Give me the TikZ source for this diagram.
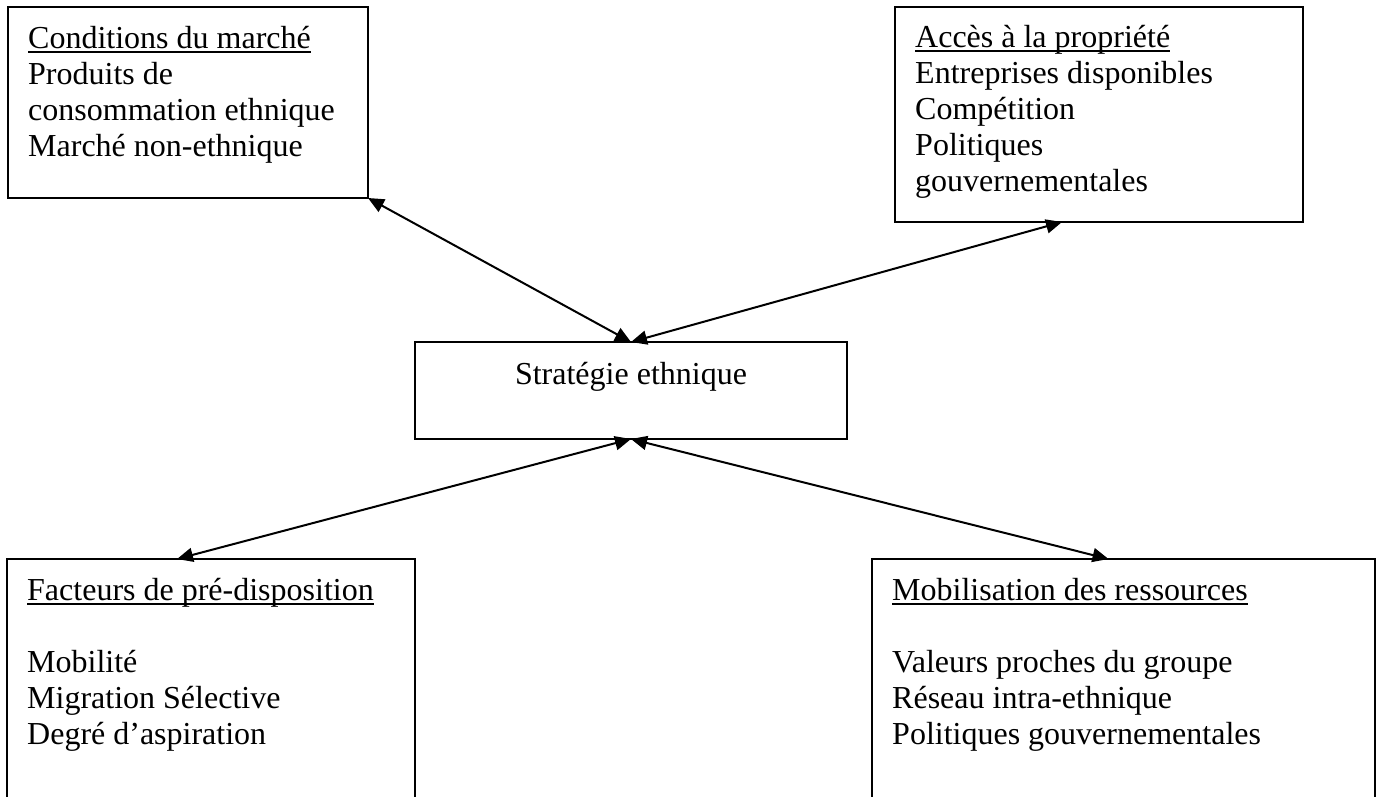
\documentclass[tikz,border=0pt]{standalone}
\usepackage{fontspec}
\setmainfont{Liberation Serif}
\usetikzlibrary{arrows.meta}

\newcommand{\souligne}[1]{\setbox0=\hbox{#1}\rlap{\rule[-4.5pt]{\wd0}{1.6pt}}\box0}

\begin{document}
\begin{tikzpicture}[x=1pt, y=-1pt,
  every node/.style={font=\fontsize{32}{36}\selectfont, inner sep=0pt},
  boite/.style={draw, line width=2pt, outer sep=0pt, anchor=north west},
  texte/.style={anchor=base west},
  fleche/.style={{Triangle[length=16pt,width=14pt]}-{Triangle[length=16pt,width=14pt]}, line width=2pt}]

\useasboundingbox (0,0) rectangle (1383,796);
\clip (0,0) rectangle (1383,796);


% Conditions du marche
\node[boite, minimum width=360pt, minimum height=191pt] (marche) at (8,7) {};
\node[texte] (marche-txt) at ([shift={(20,41)}]marche.north west)
  {\begin{tabular}[t]{@{}l@{}}
   \souligne{Conditions du marché}\\
   Produits de\\
   consommation ethnique\\
   Marché non-ethnique
   \end{tabular}};


% Acces a la propriete
\node[boite, minimum width=408pt, minimum height=215pt] (propriete) at (895,7) {};
\node[texte] (propriete-txt) at ([shift={(20,40)}]propriete.north west)
  {\begin{tabular}[t]{@{}l@{}}
   \souligne{Accès à la propriété}\\
   Entreprises disponibles\\
   Compétition\\
   Politiques\\
   gouvernementales
   \end{tabular}};


% Strategie ethnique
\node[boite, minimum width=432pt, minimum height=97pt] (strategie) at (415,342) {};
\node[anchor=base] (strategie-txt) at ([yshift=-42pt]strategie.north) {Stratégie ethnique};


% Facteurs de pre-disposition
\node[boite, minimum width=408pt, minimum height=260pt] (predispo) at (7,559) {};
\node[texte] (predispo-txt) at ([shift={(20,41)}]predispo.north west)
  {\begin{tabular}[t]{@{}l@{}}
   \souligne{Facteurs de pré-disposition}\\
   \\
   Mobilité\\
   Migration Sélective\\
   Degré d’aspiration
   \end{tabular}};


% Mobilisation des ressources
\node[boite, minimum width=503pt, minimum height=260pt] (ressources) at (872,559) {};
\node[texte] (ressources-txt) at ([shift={(20,41)}]ressources.north west)
  {\begin{tabular}[t]{@{}l@{}}
   \souligne{Mobilisation des ressources}\\
   \\
   Valeurs proches du groupe\\
   Réseau intra-ethnique\\
   Politiques gouvernementales
   \end{tabular}};


% Fleches
\draw[fleche] (marche.south east) -- (strategie.north);
\draw[fleche] ([xshift=-37pt]propriete.south) -- (strategie.north);
\draw[fleche] (strategie.south) -- ([xshift=-34pt]predispo.north);
\draw[fleche] (strategie.south) -- ([xshift=-15pt]ressources.north);

\end{tikzpicture}
\end{document}
